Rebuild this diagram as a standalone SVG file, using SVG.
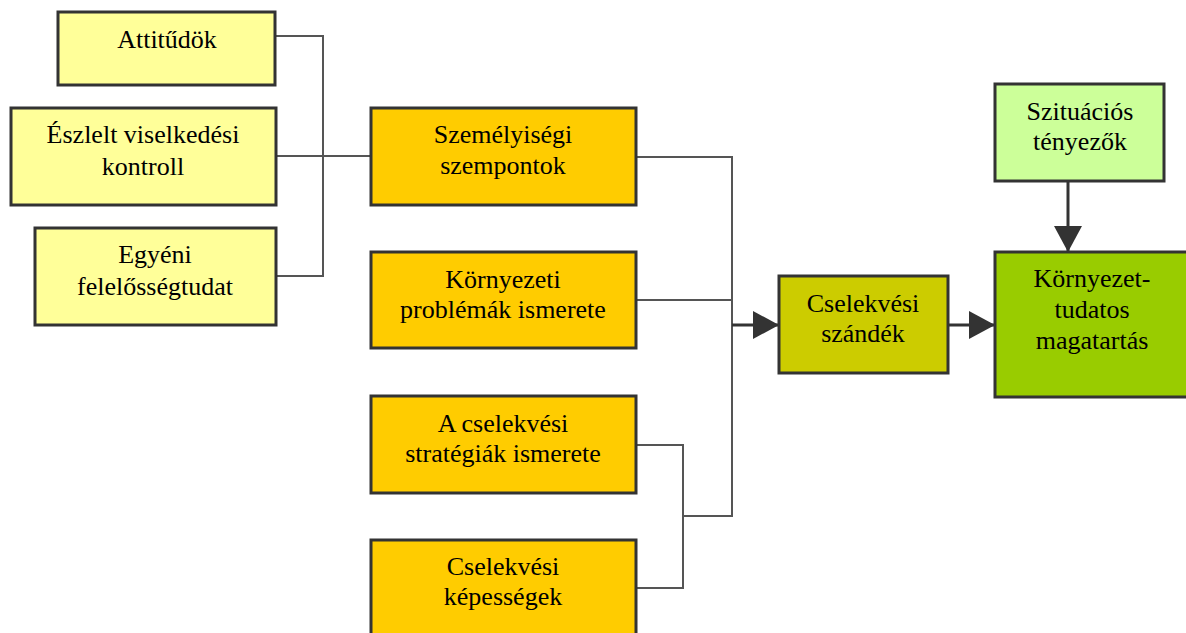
<svg xmlns="http://www.w3.org/2000/svg" width="1186" height="633" viewBox="0 0 1186 633">
  <style>
    .box { stroke: #333333; stroke-width: 3; }
    .y1 { fill: #FFFF99; }
    .y2 { fill: #FFCC00; }
    .y3 { fill: #CCCC00; }
    .g1 { fill: #CCFF99; }
    .g2 { fill: #99CC00; }
    .lbl { font-size: 26px; fill: #000000; text-anchor: middle; }
    .link { fill: none; stroke: #555555; stroke-width: 2; }
    .flow { fill: none; stroke: #333333; stroke-width: 3; }
  </style>
  <defs>
    <marker id="head" markerUnits="userSpaceOnUse" viewBox="0 0 26 28" refX="26" refY="14" markerWidth="26" markerHeight="28" orient="auto">
      <path d="M0,0 L26,14 L0,28 Z" fill="#333333"/>
    </marker>
  </defs>

  <!-- connectors -->
  <g id="connectors">
    <polyline class="link" points="276,36 323,36 323,276 276,276"/>
    <line class="link" x1="276" y1="156" x2="372" y2="156"/>
    <polyline class="link" points="636,157 732,157 732,516 683,516"/>
    <line class="link" x1="636" y1="300" x2="732" y2="300"/>
    <polyline class="link" points="636,445 683,445 683,588 636,588"/>
    <line class="flow" x1="732" y1="325" x2="779" y2="325" marker-end="url(#head)"/>
    <line class="flow" x1="948" y1="325" x2="995" y2="325" marker-end="url(#head)"/>
    <line class="flow" x1="1068" y1="181" x2="1068" y2="252" marker-end="url(#head)"/>
  </g>

  <g font-family="'Liberation Serif', 'Times New Roman', 'DejaVu Serif', serif">
  <g id="attitudok">
    <rect class="box y1" x="58" y="12" width="217" height="73"/>
    <text class="lbl" x="167" y="48">Attitűdök</text>
  </g>
  <g id="eszlelt">
    <rect class="box y1" x="11" y="108" width="265" height="97"/>
    <text class="lbl" x="143" y="143">Észlelt viselkedési</text>
    <text class="lbl" x="143" y="175">kontroll</text>
  </g>
  <g id="egyeni">
    <rect class="box y1" x="35" y="228" width="241" height="97"/>
    <text class="lbl" x="155" y="263">Egyéni</text>
    <text class="lbl" x="155" y="295">felelősségtudat</text>
  </g>
  <g id="szemelyisegi">
    <rect class="box y2" x="371" y="108" width="265" height="97"/>
    <text class="lbl" x="503" y="143">Személyiségi</text>
    <text class="lbl" x="503" y="174">szempontok</text>
  </g>
  <g id="kornyezeti">
    <rect class="box y2" x="371" y="252" width="265" height="96"/>
    <text class="lbl" x="503" y="288">Környezeti</text>
    <text class="lbl" x="503" y="318">problémák ismerete</text>
  </g>
  <g id="strategiak">
    <rect class="box y2" x="371" y="396" width="265" height="97"/>
    <text class="lbl" x="503" y="432">A cselekvési</text>
    <text class="lbl" x="503" y="462">stratégiák ismerete</text>
  </g>
  <g id="kepessegek">
    <rect class="box y2" x="371" y="540" width="265" height="100"/>
    <text class="lbl" x="503" y="575">Cselekvési</text>
    <text class="lbl" x="503" y="605">képességek</text>
  </g>
  <g id="szandek">
    <rect class="box y3" x="779" y="276" width="169" height="97"/>
    <text class="lbl" x="863" y="312">Cselekvési</text>
    <text class="lbl" x="863" y="342">szándék</text>
  </g>
  <g id="szituacios">
    <rect class="box g1" x="995" y="84" width="169" height="97"/>
    <text class="lbl" x="1080" y="120">Szituációs</text>
    <text class="lbl" x="1080" y="150">tényezők</text>
  </g>
  <g id="magatartas">
    <rect class="box g2" x="995" y="252" width="200" height="145"/>
    <text class="lbl" x="1092" y="287">Környezet-</text>
    <text class="lbl" x="1092" y="318">tudatos</text>
    <text class="lbl" x="1092" y="349">magatartás</text>
  </g>
  </g>
</svg>
